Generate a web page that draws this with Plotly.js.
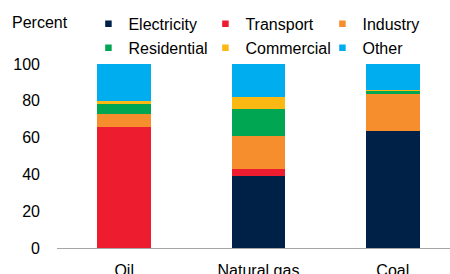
<!DOCTYPE html>
<html><head><meta charset="utf-8">
<script src="https://cdn.plot.ly/plotly-3.0.1.min.js"></script>
<style>html,body{margin:0;padding:0;background:#fff}#chart{width:450px;height:274px}</style>
</head><body><div id="chart"></div>
<script>
const categories = ['Oil', 'Natural gas', 'Coal'];
const seriesNames = ['Electricity', 'Transport', 'Industry', 'Residential', 'Commercial', 'Other'];
const electricity = [0, 39.1, 63.6];
const transport = [65.6, 3.7, 0];
const industry = [7.2, 18.3, 19.9];
const residential = [5.3, 14.4, 1.7];
const commercial = [2.0, 6.4, 0.9];
const other = [19.9, 18.1, 13.9];
const yTicks = [0, 20, 40, 60, 80, 100];
const colors = ['#002147', '#ED1C2E', '#F68E2E', '#00A651', '#FDB913', '#00AEEF'];
const values = [electricity, transport, industry, residential, commercial, other];

const font = {family: 'Liberation Sans, Arial, sans-serif', size: 16, color: '#000'};
const traces = seriesNames.map((n, i) => ({
  type: 'bar', name: n, x: categories, y: values[i],
  marker: {color: colors[i], line: {width: 0}},
  showlegend: false, hoverinfo: 'skip'
}));
seriesNames.forEach((n, i) => traces.push({
  type: 'scatter', mode: 'markers', name: n, x: [null], y: [null],
  marker: {symbol: 'square', size: 6.5, color: colors[i]}, showlegend: true
}));

Plotly.newPlot('chart', traces, {
  width: 450, height: 274,
  margin: {l: 57, r: 0, t: 64, b: 26},
  barmode: 'stack', bargap: 0.6,
  paper_bgcolor: '#fff', plot_bgcolor: '#fff',
  font: font,
  showlegend: true,
  legend: {orientation: 'h', traceorder: 'normal', x: 0.08, xref: 'paper', y: 1.31, yref: 'paper', yanchor: 'top',
    xanchor: 'left', entrywidth: 72, entrywidthmode: 'pixels', font: font,
    itemwidth: 30, tracegroupgap: 0, bgcolor: 'rgba(0,0,0,0)'},
  xaxis: {type: 'category', range: [-0.5, 2.426], showline: true, linecolor: '#A6A6A6', linewidth: 1,
    ticks: '', showgrid: false, zeroline: false, tickfont: font, ticklabelstandoff: 8, fixedrange: true},
  yaxis: {range: [0, 100], tickvals: yTicks, ticktext: yTicks.map(String), showline: false, showgrid: false,
    zeroline: false, ticks: '', tickfont: font, ticklabelstandoff: 16, fixedrange: true},
  annotations: [{text: 'Percent', xref: 'paper', yref: 'paper', x: -0.12, y: 1.228, xanchor: 'left', yanchor: 'middle',
    showarrow: false, font: font}]
}, {staticPlot: true});
</script></body></html>
